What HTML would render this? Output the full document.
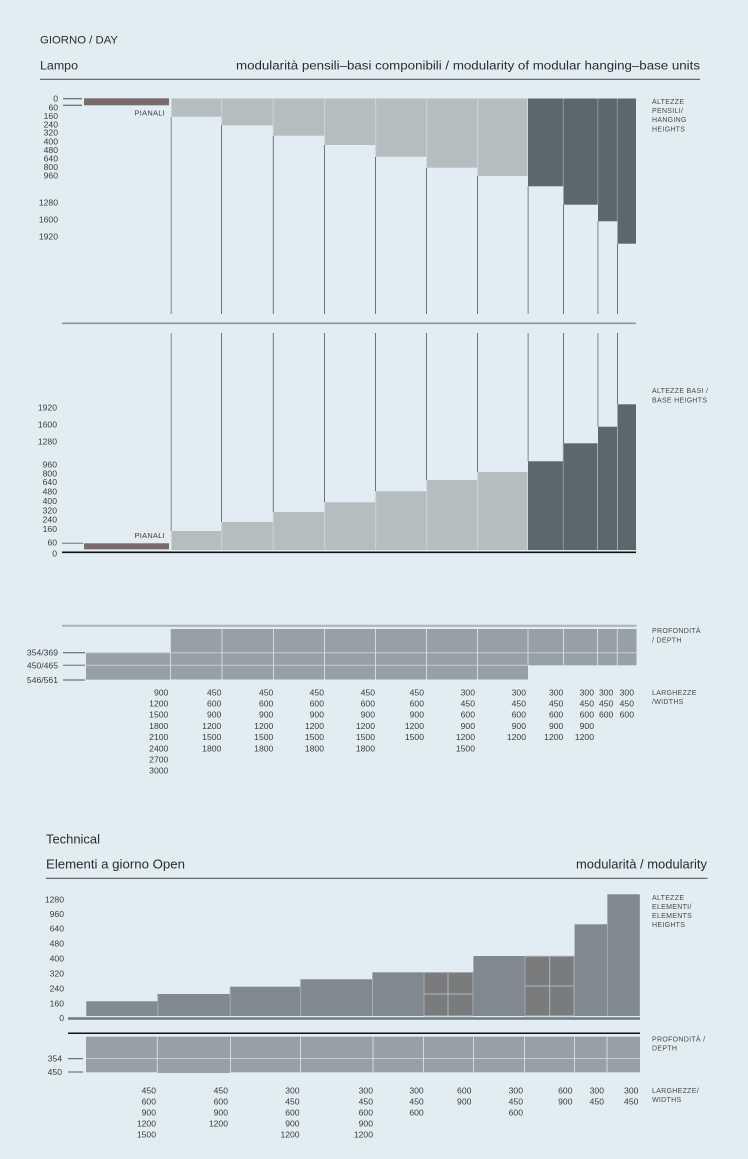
<!DOCTYPE html>
<html><head><meta charset="utf-8"><style>
html,body{margin:0;padding:0;background:#e1ecf3;}
svg{display:block;font-family:"Liberation Sans",Arial,sans-serif;}
.t{fill:#2b2b2b;}
.n{fill:#3c3c3c;font-size:8.6px;text-anchor:end;}
.r{fill:#4a4a4a;font-size:7px;letter-spacing:0.3px;}
</style></head><body>
<svg width="748" height="1159" viewBox="0 0 748 1159" xmlns="http://www.w3.org/2000/svg">
<rect width="748" height="1159" fill="#e1ecf3"/>

<!-- Header -->
<text class="t" x="40" y="43.3" font-size="11" textLength="78" lengthAdjust="spacingAndGlyphs">GIORNO / DAY</text>
<text class="t" x="40" y="69.3" font-size="12.4" textLength="38" lengthAdjust="spacingAndGlyphs">Lampo</text>
<text class="t" x="236" y="69.3" font-size="12.2" textLength="464" lengthAdjust="spacingAndGlyphs">modularità pensili–basi componibili / modularity of modular hanging–base units</text>
<line x1="40" y1="79.3" x2="700" y2="79.3" stroke="#555b5f" stroke-width="1.2"/>

<!-- Top chart: hanging heights -->
<g class="n">
<text x="58" y="101.7">0</text><text x="58" y="110.3">60</text><text x="58" y="119">160</text>
<text x="58" y="127.3">240</text><text x="58" y="135.7">320</text><text x="58" y="144.3">400</text>
<text x="58" y="153">480</text><text x="58" y="161.3">640</text><text x="58" y="170">800</text>
<text x="58" y="178.7">960</text><text x="58" y="205.3">1280</text><text x="58" y="222.7">1600</text>
<text x="58" y="239.7">1920</text>
</g>
<line x1="63" y1="98.7" x2="82" y2="98.7" stroke="#4a4f52" stroke-width="1"/>
<line x1="63" y1="105.3" x2="82" y2="105.3" stroke="#4a4f52" stroke-width="1"/>
<rect x="84" y="98.3" width="85" height="7" fill="#7b6a6a"/>
<text x="165" y="115.3" font-size="7.4" fill="#3c3c3c" text-anchor="end" letter-spacing="0.3">PIANALI</text>

<!-- top bars -->
<g>
<rect x="171.5" y="98.5" width="50" height="18.2" fill="#b5bdbf"/>
<rect x="222" y="98.5" width="51" height="26.8" fill="#b5bdbf"/>
<rect x="273.5" y="98.5" width="51" height="37.2" fill="#b5bdbf"/>
<rect x="325" y="98.5" width="50.5" height="46.5" fill="#b5bdbf"/>
<rect x="376" y="98.5" width="50.5" height="58.2" fill="#b5bdbf"/>
<rect x="427" y="98.5" width="50.5" height="69.2" fill="#b5bdbf"/>
<rect x="478" y="98.5" width="49.5" height="77.5" fill="#b5bdbf"/>
<rect x="528" y="98.5" width="35" height="87.8" fill="#5b676d"/>
<rect x="563.5" y="98.5" width="34" height="106.2" fill="#5b676d"/>
<rect x="598" y="98.5" width="19" height="122.8" fill="#5b676d"/>
<rect x="617.5" y="98.5" width="18.5" height="145.2" fill="#5b676d"/>
</g>
<g stroke="#cdd4d7" stroke-width="1">
<line x1="221.7" y1="98.5" x2="221.7" y2="125"/><line x1="273.2" y1="98.5" x2="273.2" y2="135"/>
<line x1="324.7" y1="98.5" x2="324.7" y2="145"/><line x1="375.7" y1="98.5" x2="375.7" y2="156"/>
<line x1="426.7" y1="98.5" x2="426.7" y2="167"/><line x1="477.7" y1="98.5" x2="477.7" y2="176"/>
</g>
<g stroke="#8e989d" stroke-width="1">
<line x1="563.3" y1="98.5" x2="563.3" y2="186"/><line x1="597.8" y1="98.5" x2="597.8" y2="204"/>
<line x1="617.3" y1="98.5" x2="617.3" y2="221"/>
</g>
<!-- vertical lines top -->
<g stroke="#6b757b" stroke-width="1">
<line x1="221.5" y1="125.3" x2="221.5" y2="314"/><line x1="273.3" y1="135.7" x2="273.3" y2="314"/>
<line x1="324.5" y1="145" x2="324.5" y2="314"/><line x1="375.5" y1="156.7" x2="375.5" y2="314"/>
<line x1="426.5" y1="167.7" x2="426.5" y2="314"/><line x1="477.5" y1="176" x2="477.5" y2="314"/>
<line x1="563.5" y1="204.7" x2="563.5" y2="314"/><line x1="617.5" y1="243.7" x2="617.5" y2="314"/>
</g>
<g stroke="#a3abb0" stroke-width="1.6">
<line x1="171.3" y1="116.7" x2="171.3" y2="314"/><line x1="528.2" y1="186.3" x2="528.2" y2="314"/>
<line x1="597.9" y1="221.3" x2="597.9" y2="314"/>
</g>
<line x1="62" y1="323.3" x2="636" y2="323.3" stroke="#8b959b" stroke-width="1.6"/>

<text class="r" x="652" y="104">ALTEZZE</text>
<text class="r" x="652" y="113.1">PENSILI/</text>
<text class="r" x="652" y="122.2">HANGING</text>
<text class="r" x="652" y="131.3">HEIGHTS</text>

<!-- Bottom chart: base heights -->
<g class="n">
<text x="57" y="410.3">1920</text><text x="57" y="427.3">1600</text><text x="57" y="444.3">1280</text>
<text x="57" y="467.7">960</text><text x="57" y="476.3">800</text><text x="57" y="485">640</text>
<text x="57" y="494.7">480</text><text x="57" y="504">400</text><text x="57" y="513.3">320</text>
<text x="57" y="522.7">240</text><text x="57" y="532">160</text><text x="57" y="545.7">60</text>
<text x="57" y="556.3">0</text>
</g>
<g stroke="#6b757b" stroke-width="1">
<line x1="221.5" y1="333" x2="221.5" y2="522"/><line x1="273.3" y1="333" x2="273.3" y2="512"/>
<line x1="324.5" y1="333" x2="324.5" y2="502.3"/><line x1="375.5" y1="333" x2="375.5" y2="491.3"/>
<line x1="426.5" y1="333" x2="426.5" y2="480"/><line x1="477.5" y1="333" x2="477.5" y2="472"/>
<line x1="563.5" y1="333" x2="563.5" y2="443.3"/><line x1="617.5" y1="333" x2="617.5" y2="404.3"/>
</g>
<g stroke="#a3abb0" stroke-width="1.6">
<line x1="171.3" y1="333" x2="171.3" y2="531"/><line x1="528.2" y1="333" x2="528.2" y2="461.3"/>
<line x1="597.9" y1="333" x2="597.9" y2="426.7"/>
</g>
<rect x="171.5" y="531" width="50" height="19" fill="#b5bdbf"/>
<rect x="222" y="522" width="51" height="28" fill="#b5bdbf"/>
<rect x="273.5" y="512" width="51" height="38" fill="#b5bdbf"/>
<rect x="325" y="502.3" width="50.5" height="47.7" fill="#b5bdbf"/>
<rect x="376" y="491.3" width="50.5" height="58.7" fill="#b5bdbf"/>
<rect x="427" y="480" width="50.5" height="70" fill="#b5bdbf"/>
<rect x="478" y="472" width="49.5" height="78" fill="#b5bdbf"/>
<rect x="528" y="461.3" width="35" height="88.7" fill="#5b676d"/>
<rect x="563.5" y="443.3" width="34" height="106.7" fill="#5b676d"/>
<rect x="598" y="426.7" width="19" height="123.3" fill="#5b676d"/>
<rect x="617.5" y="404.3" width="18.5" height="145.7" fill="#5b676d"/>
<g stroke="#cdd4d7" stroke-width="1">
<line x1="221.7" y1="522" x2="221.7" y2="550"/><line x1="273.2" y1="512" x2="273.2" y2="550"/>
<line x1="324.7" y1="502.3" x2="324.7" y2="550"/><line x1="375.7" y1="491.3" x2="375.7" y2="550"/>
<line x1="426.7" y1="480" x2="426.7" y2="550"/><line x1="477.7" y1="472" x2="477.7" y2="550"/>
</g>
<line x1="563.3" y1="443.3" x2="563.3" y2="550" stroke="#8e989d" stroke-width="1"/>
<rect x="84" y="543.3" width="85" height="6" fill="#7b6a6a"/>
<line x1="62" y1="543.3" x2="83" y2="543.3" stroke="#6b757b" stroke-width="1"/>
<text x="165" y="538" font-size="7.4" fill="#3c3c3c" text-anchor="end" letter-spacing="0.3">PIANALI</text>
<line x1="62" y1="552.3" x2="636" y2="552.3" stroke="#111" stroke-width="1.6"/>

<text class="r" x="652" y="393.2">ALTEZZE BASI /</text>
<text class="r" x="652" y="402.5">BASE HEIGHTS</text>

<!-- Depth section -->
<line x1="62" y1="625.7" x2="636.5" y2="625.7" stroke="#a9b2b8" stroke-width="2"/>
<rect x="86" y="652.7" width="84" height="27" fill="#979fa7"/>
<rect x="171" y="629" width="357" height="50.5" fill="#979fa7"/>
<rect x="528" y="629" width="108.5" height="36.3" fill="#979fa7"/>
<line x1="86" y1="652.7" x2="636.5" y2="652.7" stroke="#c9cfbf" stroke-width="1"/>
<line x1="86" y1="665.3" x2="528" y2="665.3" stroke="#c9cfbf" stroke-width="1"/>
<g stroke="#d3dade" stroke-width="1">
<line x1="170.5" y1="629" x2="170.5" y2="679.5"/><line x1="222" y1="629" x2="222" y2="679.5"/>
<line x1="273.5" y1="629" x2="273.5" y2="679.5"/><line x1="324.5" y1="629" x2="324.5" y2="679.5"/>
<line x1="375.5" y1="629" x2="375.5" y2="679.5"/><line x1="426.5" y1="629" x2="426.5" y2="679.5"/>
<line x1="477.5" y1="629" x2="477.5" y2="679.5"/><line x1="528" y1="629" x2="528" y2="665.3"/>
<line x1="563.5" y1="629" x2="563.5" y2="665.3"/><line x1="597.5" y1="629" x2="597.5" y2="665.3"/>
<line x1="617.3" y1="629" x2="617.3" y2="665.3"/>
</g>
<line x1="63" y1="652.7" x2="85" y2="652.7" stroke="#50575b" stroke-width="1"/>
<line x1="63" y1="665.3" x2="85" y2="665.3" stroke="#8a9398" stroke-width="1.3"/>
<line x1="63" y1="680" x2="85" y2="680" stroke="#50575b" stroke-width="1"/>
<g class="n">
<text x="58" y="655.7">354/369</text><text x="58" y="668.3">450/465</text><text x="58" y="683">546/561</text>
</g>
<text class="r" x="652" y="633.2">PROFONDITÀ</text>
<text class="r" x="652" y="642.5">/ DEPTH</text>

<!-- Widths -->
<g class="n">
<text x="168.3" y="695.3">900</text><text x="168.3" y="706.5">1200</text><text x="168.3" y="717.7">1500</text><text x="168.3" y="728.9">1800</text><text x="168.3" y="740.1">2100</text><text x="168.3" y="751.3">2400</text><text x="168.3" y="762.5">2700</text><text x="168.3" y="773.7">3000</text>

<text x="221.3" y="695.3">450</text><text x="221.3" y="706.5">600</text><text x="221.3" y="717.7">900</text><text x="221.3" y="728.9">1200</text><text x="221.3" y="740.1">1500</text><text x="221.3" y="751.3">1800</text>
<text x="273.3" y="695.3">450</text><text x="273.3" y="706.5">600</text><text x="273.3" y="717.7">900</text><text x="273.3" y="728.9">1200</text><text x="273.3" y="740.1">1500</text><text x="273.3" y="751.3">1800</text>
<text x="324" y="695.3">450</text><text x="324" y="706.5">600</text><text x="324" y="717.7">900</text><text x="324" y="728.9">1200</text><text x="324" y="740.1">1500</text><text x="324" y="751.3">1800</text>
<text x="375" y="695.3">450</text><text x="375" y="706.5">600</text><text x="375" y="717.7">900</text><text x="375" y="728.9">1200</text><text x="375" y="740.1">1500</text><text x="375" y="751.3">1800</text>
<text x="424" y="695.3">450</text><text x="424" y="706.5">600</text><text x="424" y="717.7">900</text><text x="424" y="728.9">1200</text><text x="424" y="740.1">1500</text>
<text x="475" y="695.3">300</text><text x="475" y="706.5">450</text><text x="475" y="717.7">600</text><text x="475" y="728.9">900</text><text x="475" y="740.1">1200</text><text x="475" y="751.3">1500</text>
<text x="526" y="695.3">300</text><text x="526" y="706.5">450</text><text x="526" y="717.7">600</text><text x="526" y="728.9">900</text><text x="526" y="740.1">1200</text>
<text x="563.3" y="695.3">300</text><text x="563.3" y="706.5">450</text><text x="563.3" y="717.7">600</text><text x="563.3" y="728.9">900</text><text x="563.3" y="740.1">1200</text>
<text x="594" y="695.3">300</text><text x="594" y="706.5">450</text><text x="594" y="717.7">600</text><text x="594" y="728.9">900</text><text x="594" y="740.1">1200</text>
<text x="613.3" y="695.3">300</text><text x="613.3" y="706.5">450</text><text x="613.3" y="717.7">600</text>
<text x="634" y="695.3">300</text><text x="634" y="706.5">450</text><text x="634" y="717.7">600</text>
</g>
<text class="r" x="652" y="694.8">LARGHEZZE</text>
<text class="r" x="652" y="703.8">/WIDTHS</text>

<!-- Technical -->
<text class="t" x="46" y="843.3" font-size="12.5" textLength="54" lengthAdjust="spacingAndGlyphs">Technical</text>
<text class="t" x="46" y="868.3" font-size="12.5" textLength="139" lengthAdjust="spacingAndGlyphs">Elementi a giorno Open</text>
<text class="t" x="576" y="868.3" font-size="12.5" textLength="131" lengthAdjust="spacingAndGlyphs">modularità / modularity</text>
<line x1="46" y1="878.3" x2="707.5" y2="878.3" stroke="#555b5f" stroke-width="1.2"/>

<g class="n">
<text x="64" y="902.3">1280</text><text x="64" y="917">960</text><text x="64" y="931.7">640</text>
<text x="64" y="946.7">480</text><text x="64" y="961.7">400</text><text x="64" y="976.3">320</text>
<text x="64" y="991.3">240</text><text x="64" y="1006.3">160</text><text x="64" y="1021">0</text>
</g>
<g fill="#7f898f">
<rect x="86.3" y="1001.3" width="71.5" height="14.7"/>
<rect x="157.8" y="994" width="72.4" height="22"/>
<rect x="230.2" y="986.7" width="70.4" height="29.3"/>
<rect x="300.6" y="979.3" width="71.9" height="36.7"/>
<rect x="372.5" y="972.3" width="51.1" height="43.7"/>
<rect x="473.4" y="956" width="51.4" height="60"/>
<rect x="574.6" y="924.3" width="32.8" height="91.7"/>
<rect x="607.4" y="894.3" width="32.4" height="121.7"/>
</g>
<!-- cross boxes -->
<rect x="424" y="972.5" width="49" height="43.3" fill="#7a7b7d" stroke="#a3abaf" stroke-width="1"/>
<line x1="448" y1="973" x2="448" y2="1015.5" stroke="#b3b9bb" stroke-width="1"/>
<line x1="424.5" y1="994" x2="472.5" y2="994" stroke="#b3b9bb" stroke-width="1"/>
<rect x="525" y="956.3" width="49" height="59.5" fill="#7a7b7d" stroke="#a3abaf" stroke-width="1"/>
<line x1="549.7" y1="957" x2="549.7" y2="1015.5" stroke="#b3b9bb" stroke-width="1"/>
<line x1="525.5" y1="986" x2="573.5" y2="986" stroke="#b3b9bb" stroke-width="1"/>
<g stroke="#a6aeb2" stroke-width="1">
<line x1="157.8" y1="994" x2="157.8" y2="1016"/><line x1="230.2" y1="986.7" x2="230.2" y2="1016"/>
<line x1="300.6" y1="979.3" x2="300.6" y2="1016"/><line x1="372.5" y1="972.3" x2="372.5" y2="1016"/>
<line x1="607.4" y1="924.3" x2="607.4" y2="1016"/>
</g>
<line x1="68" y1="1018.5" x2="640" y2="1018.5" stroke="#6f797f" stroke-width="2.6"/>

<text class="r" x="652" y="899.8">ALTEZZE</text>
<text class="r" x="652" y="908.9">ELEMENTI/</text>
<text class="r" x="652" y="918">ELEMENTS</text>
<text class="r" x="652" y="927.1">HEIGHTS</text>

<!-- Technical depth -->
<line x1="68" y1="1033.3" x2="640" y2="1033.3" stroke="#111" stroke-width="1.5"/>
<rect x="86" y="1036.7" width="554" height="35.6" fill="#989fa7"/>
<rect x="157.5" y="1070" width="72.5" height="3" fill="#989fa7"/>
<line x1="86" y1="1058.5" x2="640" y2="1058.5" stroke="#c9cfbf" stroke-width="1"/>
<g stroke="#d3dade" stroke-width="1">
<line x1="157.3" y1="1036.7" x2="157.3" y2="1073"/><line x1="230.5" y1="1036.7" x2="230.5" y2="1073"/>
<line x1="300.5" y1="1036.7" x2="300.5" y2="1072.3"/><line x1="373" y1="1036.7" x2="373" y2="1072.3"/>
<line x1="423.5" y1="1036.7" x2="423.5" y2="1072.3"/><line x1="473.5" y1="1036.7" x2="473.5" y2="1072.3"/>
<line x1="524.5" y1="1036.7" x2="524.5" y2="1072.3"/><line x1="574.5" y1="1036.7" x2="574.5" y2="1072.3"/>
<line x1="607" y1="1036.7" x2="607" y2="1072.3"/>
</g>
<line x1="68" y1="1058.7" x2="83" y2="1058.7" stroke="#50575b" stroke-width="1"/>
<line x1="68" y1="1072" x2="83" y2="1072" stroke="#8a9398" stroke-width="1.6"/>
<g class="n">
<text x="62" y="1061.7">354</text><text x="62" y="1075">450</text>
</g>
<text class="r" x="652" y="1041.5">PROFONDITÀ /</text>
<text class="r" x="652" y="1050.7">DEPTH</text>

<!-- Technical widths -->
<g class="n">
<text x="156" y="1093.3">450</text><text x="156" y="1104.4">600</text><text x="156" y="1115.5">900</text><text x="156" y="1126.6">1200</text><text x="156" y="1137.7">1500</text>
<text x="228" y="1093.3">450</text><text x="228" y="1104.4">600</text><text x="228" y="1115.5">900</text><text x="228" y="1126.6">1200</text>
<text x="299.6" y="1093.3">300</text><text x="299.6" y="1104.4">450</text><text x="299.6" y="1115.5">600</text><text x="299.6" y="1126.6">900</text><text x="299.6" y="1137.7">1200</text>
<text x="373" y="1093.3">300</text><text x="373" y="1104.4">450</text><text x="373" y="1115.5">600</text><text x="373" y="1126.6">900</text><text x="373" y="1137.7">1200</text>
<text x="423.7" y="1093.3">300</text><text x="423.7" y="1104.4">450</text><text x="423.7" y="1115.5">600</text>
<text x="471.4" y="1093.3">600</text><text x="471.4" y="1104.4">900</text>
<text x="523" y="1093.3">300</text><text x="523" y="1104.4">450</text><text x="523" y="1115.5">600</text>
<text x="572.5" y="1093.3">600</text><text x="572.5" y="1104.4">900</text>
<text x="604" y="1093.3">300</text><text x="604" y="1104.4">450</text>
<text x="638.4" y="1093.3">300</text><text x="638.4" y="1104.4">450</text>
</g>
<text class="r" x="652" y="1092.8">LARGHEZZE/</text>
<text class="r" x="652" y="1102">WIDTHS</text>
</svg>
</body></html>
